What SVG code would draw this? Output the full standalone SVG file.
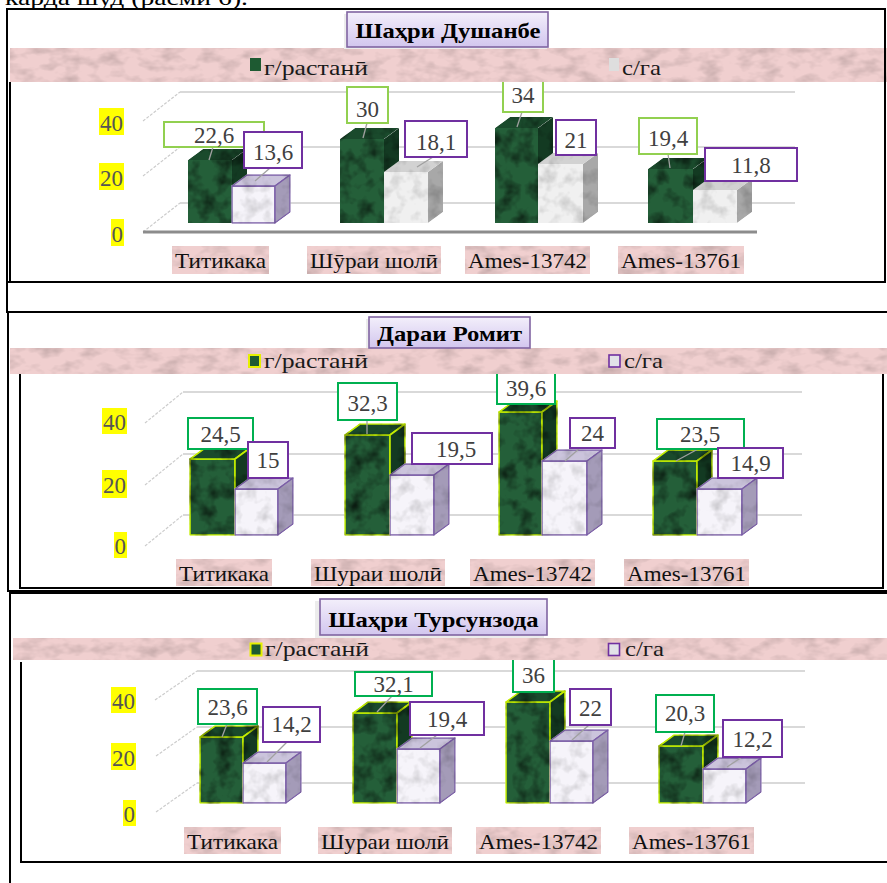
<svg xmlns="http://www.w3.org/2000/svg" width="887" height="883" viewBox="0 0 887 883">
  <defs>
    <style>
      .serif { font-family: "Liberation Serif", "DejaVu Serif", serif; }
      .val { font-family: "Liberation Serif", "DejaVu Serif", serif; font-size: 23px; fill: #404040; text-anchor: middle; }
      .ax { font-family: "Liberation Serif", "DejaVu Serif", serif; font-size: 23px; fill: #555555; text-anchor: end; }
      .cat { font-family: "Liberation Serif", "DejaVu Serif", serif; font-size: 22px; fill: #111111; }
      .leg { font-family: "Liberation Serif", "DejaVu Serif", serif; font-size: 22px; fill: #1a1a1a; }
      .ttl { font-family: "Liberation Serif", "DejaVu Serif", serif; font-size: 22px; font-weight: bold; fill: #000000; text-anchor: middle; }
      .boxA { fill: #ffffff; stroke: #92d050; stroke-width: 2; }
      .boxG { fill: #ffffff; stroke: #00b050; stroke-width: 2; }
      .boxP { fill: #ffffff; stroke: #7030a0; stroke-width: 2; }
      .lead { stroke: #a0a0a0; stroke-width: 1.3; fill: none; }
      .wall { stroke: #d9d9d9; stroke-width: 2; fill: none; }
      .side { stroke: #cccccc; stroke-width: 1.2; fill: none; stroke-dasharray: 3 1.5; }
      .frame { stroke: #000000; stroke-width: 2; fill: none; }
      .yel { fill: #ffff00; }
      .pink { fill: #f0cfcf; }
      .gF { fill: #245f39; }
      .gT { fill: #1a4a2c; }
      .gS { fill: #133a22; }
      .wF { fill: #f6f4fa; }
      .wT { fill: #cbc4dc; }
      .wS { fill: #a49bb8; }
      .nF { fill: #f0f0f0; }
      .nT { fill: #d2d2d2; }
      .nS { fill: #a8a8a8; }
      .gLine { stroke: #c4ee00; stroke-width: 1.6; stroke-linejoin: round; }
      .wLine { stroke: #7b5ea7; stroke-width: 1.4; stroke-linejoin: round; }
      .box3 { fill: url(#ttlGrad); stroke: #8064a2; stroke-width: 1.6; }
    </style>
    <linearGradient id="ttlGrad" x1="0" y1="0" x2="0" y2="1">
      <stop offset="0" stop-color="#f3effb"/>
      <stop offset="1" stop-color="#d2c6ee"/>
    </linearGradient>
    <!-- dark green marble -->
    <filter id="texG" color-interpolation-filters="sRGB">
      <feTurbulence type="fractalNoise" baseFrequency="0.06" numOctaves="3" seed="4" result="n"/>
      <feColorMatrix in="n" type="matrix" values="1.4 0 0 0 0.2  1.4 0 0 0 0.2  1.4 0 0 0 0.2  0 0 0 0 1" result="m"/>
      <feBlend in="SourceGraphic" in2="m" mode="multiply" result="b"/>
      <feComposite in="b" in2="SourceGraphic" operator="in"/>
    </filter>
    <!-- pale marble -->
    <filter id="texW" color-interpolation-filters="sRGB">
      <feTurbulence type="fractalNoise" baseFrequency="0.07" numOctaves="3" seed="9" result="n"/>
      <feColorMatrix in="n" type="matrix" values="0.4 0 0 0 0.78  0.4 0 0 0 0.78  0.4 0 0 0 0.78  0 0 0 0 1" result="m"/>
      <feBlend in="SourceGraphic" in2="m" mode="multiply" result="b"/>
      <feComposite in="b" in2="SourceGraphic" operator="in"/>
    </filter>
    <!-- pink parchment -->
    <filter id="texP" color-interpolation-filters="sRGB" x="0" y="0" width="1" height="1">
      <feTurbulence type="fractalNoise" baseFrequency="0.05 0.09" numOctaves="3" seed="2" result="n"/>
      <feColorMatrix in="n" type="matrix" values="0.35 0 0 0 0.8  0.35 0 0 0 0.8  0.35 0 0 0 0.8  0 0 0 0 1" result="m"/>
      <feBlend in="SourceGraphic" in2="m" mode="multiply" result="b"/>
      <feComposite in="b" in2="SourceGraphic" operator="in"/>
    </filter>
  </defs>

  <rect width="887" height="883" fill="#ffffff"/>

  <!-- running text line above the figure -->
  <text class="serif" x="5" y="5" font-size="22" fill="#000" textLength="243" lengthAdjust="spacingAndGlyphs">карда шуд (расми 6).</text>

  <!-- ============ Chart 1: Шаҳри Душанбе ============ -->
  <g id="chart-dushanbe">
    <g id="grid-1">
      <line class="wall" x1="180" y1="92" x2="795" y2="92"/>
      <line class="wall" x1="180" y1="147" x2="795" y2="147"/>
      <line class="wall" x1="180" y1="203" x2="795" y2="203"/>
      <line class="side" x1="143" y1="121" x2="180" y2="92"/>
      <line class="side" x1="143" y1="176" x2="180" y2="147"/>
      <line class="side" x1="143" y1="232" x2="180" y2="203"/>
      <line x1="143" y1="232" x2="757" y2="232" stroke="#8c8c8c" stroke-width="3"/>
    </g>
    <g id="bars-1-g" filter="url(#texG)">
      <rect class="gF" x="188" y="160" width="44" height="63"/>
      <polygon class="gT" points="188,160 232,160 247,149 203,149"/>
      <polygon class="gS" points="232,160 247,149 247,212 232,223"/>
      <rect class="gF" x="340" y="139" width="44" height="84"/>
      <polygon class="gT" points="340,139 384,139 399,128 355,128"/>
      <polygon class="gS" points="384,139 399,128 399,212 384,223"/>
      <rect class="gF" x="495" y="128" width="43" height="95"/>
      <polygon class="gT" points="495,128 538,128 553,117 510,117"/>
      <polygon class="gS" points="538,128 553,117 553,212 538,223"/>
      <rect class="gF" x="648" y="169" width="45" height="54"/>
      <polygon class="gT" points="648,169 693,169 708,158 663,158"/>
      <polygon class="gS" points="693,169 708,158 708,212 693,223"/>
    </g>
    <g id="bars-1-w" filter="url(#texW)">
      <g class="wLine">
        <rect class="wF" x="232" y="186" width="43" height="37"/>
        <polygon class="wT" points="232,186 275,186 290,175 247,175"/>
        <polygon class="wS" points="275,186 290,175 290,212 275,223"/>
      </g>
      <rect class="nF" x="384" y="172" width="44" height="51"/>
      <polygon class="nT" points="384,172 428,172 443,161 399,161"/>
      <polygon class="nS" points="428,172 443,161 443,212 428,223"/>
      <rect class="nF" x="538" y="164" width="45" height="59"/>
      <polygon class="nT" points="538,164 583,164 598,153 553,153"/>
      <polygon class="nS" points="583,164 598,153 598,212 583,223"/>
      <rect class="nF" x="693" y="190" width="44" height="33"/>
      <polygon class="nT" points="693,190 737,190 752,179 708,179"/>
      <polygon class="nS" points="737,190 752,179 752,212 737,223"/>
    </g>
    <g id="labels-1">
      <line class="lead" x1="213" y1="147" x2="209" y2="160"/>
      <line class="lead" x1="270" y1="168" x2="255" y2="181"/>
      <line class="lead" x1="367" y1="123" x2="363" y2="138"/>
      <line class="lead" x1="433" y1="157" x2="417" y2="167"/>
      <line class="lead" x1="522" y1="112" x2="517" y2="127"/>
      <line class="lead" x1="668" y1="154" x2="670" y2="168"/>
      <rect class="boxA" x="164" y="122" width="100" height="25"/>
      <text class="val" x="214" y="143">22,6</text>
      <rect class="boxP" x="244" y="132" width="58" height="36"/>
      <text class="val" x="273" y="160">13,6</text>
      <rect class="boxA" x="347" y="87" width="41" height="36"/>
      <text class="val" x="367.5" y="117">30</text>
      <rect class="boxP" x="405" y="121" width="62" height="36"/>
      <text class="val" x="436" y="150">18,1</text>
      <rect class="boxA" x="503" y="76" width="40" height="36"/>
      <text class="val" x="523" y="103">34</text>
      <rect class="boxP" x="556" y="120" width="40" height="35"/>
      <text class="val" x="576" y="148">21</text>
      <rect class="boxA" x="639" y="118" width="58" height="36"/>
      <text class="val" x="668" y="146">19,4</text>
      <rect class="boxP" x="705" y="148" width="92" height="33"/>
      <text class="val" x="751" y="173">11,8</text>
    </g>
    <g id="legend-1">
      <rect class="pink" x="10" y="48" width="877" height="34" filter="url(#texP)"/>
      <rect x="250" y="58" width="11" height="13" fill="#1e5a32"/>
      <text class="leg" x="264" y="75" textLength="104" lengthAdjust="spacingAndGlyphs">г/растанӣ</text>
      <rect x="609" y="58" width="10" height="13" fill="#dedede"/>
      <text class="leg" x="622" y="75" textLength="39" lengthAdjust="spacingAndGlyphs">с/га</text>
    </g>
    <g id="title-1">
      <rect x="344" y="14" width="203" height="35" fill="#ececec"/>
      <rect class="box3" x="347" y="12" width="201" height="35"/>
      <text class="ttl" x="448" y="38" textLength="185" lengthAdjust="spacingAndGlyphs">Шаҳри Душанбе</text>
    </g>
    <g id="axis-1">
      <rect class="yel" x="99" y="108" width="25" height="27"/>
      <text class="ax" x="123" y="131">40</text>
      <rect class="yel" x="99" y="163" width="25" height="27"/>
      <text class="ax" x="123" y="186">20</text>
      <rect class="yel" x="111" y="219" width="13" height="27"/>
      <text class="ax" x="123" y="242">0</text>
    </g>
    <g id="cats-1">
      <rect class="pink" x="172" y="246" width="97" height="28" filter="url(#texP)"/>
      <text class="cat" x="175" y="268" textLength="91" lengthAdjust="spacingAndGlyphs">Титикака</text>
      <rect class="pink" x="307" y="246" width="134" height="28" filter="url(#texP)"/>
      <text class="cat" x="310" y="268" textLength="128" lengthAdjust="spacingAndGlyphs">Шӯраи шолӣ</text>
      <rect class="pink" x="465" y="246" width="125" height="28" filter="url(#texP)"/>
      <text class="cat" x="468" y="268" textLength="119" lengthAdjust="spacingAndGlyphs">Ames-13742</text>
      <rect class="pink" x="618" y="246" width="126" height="28" filter="url(#texP)"/>
      <text class="cat" x="621" y="268" textLength="120" lengthAdjust="spacingAndGlyphs">Ames-13761</text>
    </g>
    <g id="frame-1">
      <rect class="frame" x="7" y="9" width="878" height="273"/>
      <line class="frame" x1="10" y1="82" x2="10" y2="282" stroke-width="1.5"/>
      <line class="frame" x1="7" y1="282" x2="7" y2="313"/>
    </g>
  </g>

  <!-- ============ Chart 2: Дараи Ромит ============ -->
  <g id="chart-romit">
    <g id="grid-2">
      <line class="wall" x1="183" y1="392" x2="802" y2="392"/>
      <line class="wall" x1="183" y1="454" x2="802" y2="454"/>
      <line class="wall" x1="183" y1="515" x2="802" y2="515"/>
      <line class="side" x1="145" y1="423" x2="183" y2="392"/>
      <line class="side" x1="145" y1="485" x2="183" y2="454"/>
      <line class="side" x1="145" y1="546" x2="183" y2="515"/>
    </g>
    <g id="bars-2-g" filter="url(#texG)" class="gLine">
      <rect class="gF" x="190" y="459" width="45" height="76"/>
      <polygon class="gT" points="190,459 235,459 250,448 205,448"/>
      <polygon class="gS" points="235,459 250,448 250,524 235,535"/>
      <rect class="gF" x="345" y="435" width="45" height="100"/>
      <polygon class="gT" points="345,435 390,435 405,424 360,424"/>
      <polygon class="gS" points="390,435 405,424 405,524 390,535"/>
      <rect class="gF" x="499" y="412" width="43" height="123"/>
      <polygon class="gT" points="499,412 542,412 557,401 514,401"/>
      <polygon class="gS" points="542,412 557,401 557,524 542,535"/>
      <rect class="gF" x="653" y="461" width="44" height="74"/>
      <polygon class="gT" points="653,461 697,461 712,450 668,450"/>
      <polygon class="gS" points="697,461 712,450 712,524 697,535"/>
    </g>
    <g id="bars-2-w" filter="url(#texW)" class="wLine">
      <rect class="wF" x="235" y="489" width="43" height="46"/>
      <polygon class="wT" points="235,489 278,489 293,478 250,478"/>
      <polygon class="wS" points="278,489 293,478 293,524 278,535"/>
      <rect class="wF" x="390" y="475" width="44" height="60"/>
      <polygon class="wT" points="390,475 434,475 449,464 405,464"/>
      <polygon class="wS" points="434,475 449,464 449,524 434,535"/>
      <rect class="wF" x="542" y="461" width="45" height="74"/>
      <polygon class="wT" points="542,461 587,461 602,450 557,450"/>
      <polygon class="wS" points="587,461 602,450 602,524 587,535"/>
      <rect class="wF" x="697" y="489" width="45" height="46"/>
      <polygon class="wT" points="697,489 742,489 757,478 712,478"/>
      <polygon class="wS" points="742,489 757,478 757,524 742,535"/>
    </g>
    <g id="labels-2">
      <line class="lead" x1="367" y1="420" x2="367" y2="434"/>
      <line class="lead" x1="580" y1="448" x2="565" y2="461"/>
      <line class="lead" x1="698" y1="449" x2="676" y2="461"/>
      <rect class="boxG" x="188" y="418" width="65" height="31"/>
      <text class="val" x="220.5" y="442">24,5</text>
      <rect class="boxP" x="248" y="442" width="40" height="36"/>
      <text class="val" x="268" y="468">15</text>
      <rect class="boxG" x="338" y="383" width="59" height="37"/>
      <text class="val" x="367.5" y="411">32,3</text>
      <rect class="boxP" x="412" y="433" width="80" height="31"/>
      <text class="val" x="456" y="457">19,5</text>
      <rect class="boxG" x="497" y="366" width="58" height="38"/>
      <text class="val" x="526" y="396">39,6</text>
      <rect class="boxP" x="570" y="418" width="45" height="30"/>
      <text class="val" x="592.5" y="441">24</text>
      <rect class="boxG" x="657" y="419" width="87" height="30"/>
      <text class="val" x="700" y="442">23,5</text>
      <rect class="boxP" x="718" y="448" width="65" height="30"/>
      <text class="val" x="750.5" y="471">14,9</text>
    </g>
    <g id="legend-2">
      <rect class="pink" x="10" y="348" width="877" height="26" filter="url(#texP)"/>
      <rect x="249" y="355" width="11" height="12" fill="#1e5a32" stroke="#e6f000" stroke-width="2"/>
      <text class="leg" x="264" y="368" textLength="104" lengthAdjust="spacingAndGlyphs">г/растанӣ</text>
      <rect x="609" y="355" width="11" height="12" fill="#e2e2e8" stroke="#7030a0" stroke-width="1.6"/>
      <text class="leg" x="624" y="368" textLength="39" lengthAdjust="spacingAndGlyphs">с/га</text>
    </g>
    <g id="title-2">
      <rect x="366" y="319" width="163" height="29" fill="#ececec"/>
      <rect class="box3" x="369" y="317" width="161" height="31"/>
      <text class="ttl" x="449.5" y="341" textLength="145" lengthAdjust="spacingAndGlyphs">Дараи Ромит</text>
    </g>
    <g id="axis-2">
      <rect class="yel" x="102" y="408" width="25" height="26"/>
      <text class="ax" x="126" y="430">40</text>
      <rect class="yel" x="102" y="470" width="25" height="28"/>
      <text class="ax" x="126" y="493">20</text>
      <rect class="yel" x="114" y="532" width="13" height="26"/>
      <text class="ax" x="126" y="554">0</text>
    </g>
    <g id="cats-2">
      <rect class="pink" x="176" y="559" width="96" height="27" filter="url(#texP)"/>
      <text class="cat" x="179" y="581" textLength="90" lengthAdjust="spacingAndGlyphs">Титикака</text>
      <rect class="pink" x="311" y="559" width="134" height="27" filter="url(#texP)"/>
      <text class="cat" x="314" y="581" textLength="128" lengthAdjust="spacingAndGlyphs">Шураи шолӣ</text>
      <rect class="pink" x="470" y="559" width="125" height="27" filter="url(#texP)"/>
      <text class="cat" x="473" y="581" textLength="119" lengthAdjust="spacingAndGlyphs">Ames-13742</text>
      <rect class="pink" x="624" y="559" width="125" height="27" filter="url(#texP)"/>
      <text class="cat" x="627" y="581" textLength="119" lengthAdjust="spacingAndGlyphs">Ames-13761</text>
    </g>
    <g id="frame-2">
      <line class="frame" x1="7" y1="312" x2="887" y2="312"/>
      <line class="frame" x1="8" y1="312" x2="8" y2="592"/>
      <line class="frame" x1="7" y1="591" x2="887" y2="591"/>
      <polyline class="frame" points="20,374 20,588 883,588 883,374" stroke-width="1.8"/>
    </g>
  </g>

  <!-- ============ Chart 3: Шаҳри Турсунзода ============ -->
  <g id="chart-tursunzoda">
    <g id="grid-3">
      <line class="wall" x1="197" y1="671" x2="805" y2="671"/>
      <line class="wall" x1="197" y1="727" x2="805" y2="727"/>
      <line class="wall" x1="197" y1="783" x2="805" y2="783"/>
      <line class="side" x1="155" y1="700" x2="197" y2="671"/>
      <line class="side" x1="156" y1="756" x2="197" y2="727"/>
      <line class="side" x1="156" y1="812" x2="197" y2="783"/>
    </g>
    <g id="bars-3-g" filter="url(#texG)" class="gLine">
      <rect class="gF" x="200" y="737" width="43" height="66"/>
      <polygon class="gT" points="200,737 243,737 258,726 215,726"/>
      <polygon class="gS" points="243,737 258,726 258,792 243,803"/>
      <rect class="gF" x="353" y="713" width="44" height="90"/>
      <polygon class="gT" points="353,713 397,713 412,702 368,702"/>
      <polygon class="gS" points="397,713 412,702 412,792 397,803"/>
      <rect class="gF" x="506" y="702" width="44" height="101"/>
      <polygon class="gT" points="506,702 550,702 565,691 521,691"/>
      <polygon class="gS" points="550,702 565,691 565,792 550,803"/>
      <rect class="gF" x="659" y="746" width="44" height="57"/>
      <polygon class="gT" points="659,746 703,746 718,735 674,735"/>
      <polygon class="gS" points="703,746 718,735 718,792 703,803"/>
    </g>
    <g id="bars-3-w" filter="url(#texW)" class="wLine">
      <rect class="wF" x="243" y="763" width="43" height="40"/>
      <polygon class="wT" points="243,763 286,763 301,752 258,752"/>
      <polygon class="wS" points="286,763 301,752 301,792 286,803"/>
      <rect class="wF" x="397" y="749" width="43" height="54"/>
      <polygon class="wT" points="397,749 440,749 455,738 412,738"/>
      <polygon class="wS" points="440,749 455,738 455,792 440,803"/>
      <rect class="wF" x="550" y="741" width="43" height="62"/>
      <polygon class="wT" points="550,741 593,741 608,730 565,730"/>
      <polygon class="wS" points="593,741 608,730 608,792 593,803"/>
      <rect class="wF" x="703" y="769" width="43" height="34"/>
      <polygon class="wT" points="703,769 746,769 761,758 718,758"/>
      <polygon class="wS" points="746,769 761,758 761,792 746,803"/>
    </g>
    <g id="labels-3">
      <line class="lead" x1="227" y1="724" x2="222" y2="737"/>
      <line class="lead" x1="287" y1="742" x2="267" y2="762"/>
      <line class="lead" x1="392" y1="696" x2="377" y2="712"/>
      <line class="lead" x1="437" y1="735" x2="420" y2="748"/>
      <line class="lead" x1="589" y1="725" x2="572" y2="740"/>
      <line class="lead" x1="685" y1="732" x2="681" y2="746"/>
      <line class="lead" x1="742" y1="757" x2="727" y2="767"/>
      <rect class="boxG" x="198" y="689" width="59" height="35"/>
      <text class="val" x="227.5" y="715">23,6</text>
      <rect class="boxP" x="263" y="707" width="57" height="35"/>
      <text class="val" x="291.5" y="732">14,2</text>
      <rect class="boxG" x="355" y="672" width="77" height="24"/>
      <text class="val" x="393.5" y="692">32,1</text>
      <rect class="boxP" x="410" y="702" width="74" height="33"/>
      <text class="val" x="447" y="727">19,4</text>
      <rect class="boxG" x="513" y="656" width="41" height="36"/>
      <text class="val" x="533.5" y="683">36</text>
      <rect class="boxP" x="570" y="689" width="41" height="36"/>
      <text class="val" x="590.5" y="716">22</text>
      <rect class="boxG" x="656" y="695" width="58" height="37"/>
      <text class="val" x="685" y="721">20,3</text>
      <rect class="boxP" x="723" y="720" width="59" height="37"/>
      <text class="val" x="752.5" y="747">12,2</text>
    </g>
    <g id="legend-3">
      <rect class="pink" x="13" y="638" width="874" height="22" filter="url(#texP)"/>
      <rect x="250.5" y="643.5" width="11" height="12" fill="#1e5a32" stroke="#e6f000" stroke-width="2"/>
      <text class="leg" x="265" y="656" textLength="104" lengthAdjust="spacingAndGlyphs">г/растанӣ</text>
      <rect x="608.5" y="643.5" width="11" height="12" fill="#e2e2e8" stroke="#7030a0" stroke-width="1.6"/>
      <text class="leg" x="625" y="656" textLength="39" lengthAdjust="spacingAndGlyphs">с/га</text>
    </g>
    <g id="title-3">
      <rect x="315" y="601" width="229" height="37" fill="#ececec"/>
      <rect class="box3" x="320" y="599" width="227" height="36"/>
      <text class="ttl" x="433.5" y="627" textLength="210" lengthAdjust="spacingAndGlyphs">Шаҳри Турсунзода</text>
    </g>
    <g id="axis-3">
      <rect class="yel" x="111" y="687" width="25" height="26"/>
      <text class="ax" x="135" y="709">40</text>
      <rect class="yel" x="111" y="743" width="25" height="27"/>
      <text class="ax" x="135" y="766">20</text>
      <rect class="yel" x="123" y="800" width="13" height="26"/>
      <text class="ax" x="135" y="822">0</text>
    </g>
    <g id="cats-3">
      <rect class="pink" x="184" y="827" width="97" height="27" filter="url(#texP)"/>
      <text class="cat" x="187" y="849" textLength="91" lengthAdjust="spacingAndGlyphs">Титикака</text>
      <rect class="pink" x="318" y="827" width="134" height="27" filter="url(#texP)"/>
      <text class="cat" x="321" y="849" textLength="128" lengthAdjust="spacingAndGlyphs">Шураи шолӣ</text>
      <rect class="pink" x="476" y="827" width="125" height="27" filter="url(#texP)"/>
      <text class="cat" x="479" y="849" textLength="119" lengthAdjust="spacingAndGlyphs">Ames-13742</text>
      <rect class="pink" x="629" y="827" width="125" height="27" filter="url(#texP)"/>
      <text class="cat" x="632" y="849" textLength="119" lengthAdjust="spacingAndGlyphs">Ames-13761</text>
    </g>
    <g id="frame-3">
      <line class="frame" x1="9" y1="593" x2="887" y2="593"/>
      <line class="frame" x1="10" y1="593" x2="10" y2="883"/>
      <polyline class="frame" points="21,662 21,862 887,862" stroke-width="1.8"/>
    </g>
  </g>
</svg>
